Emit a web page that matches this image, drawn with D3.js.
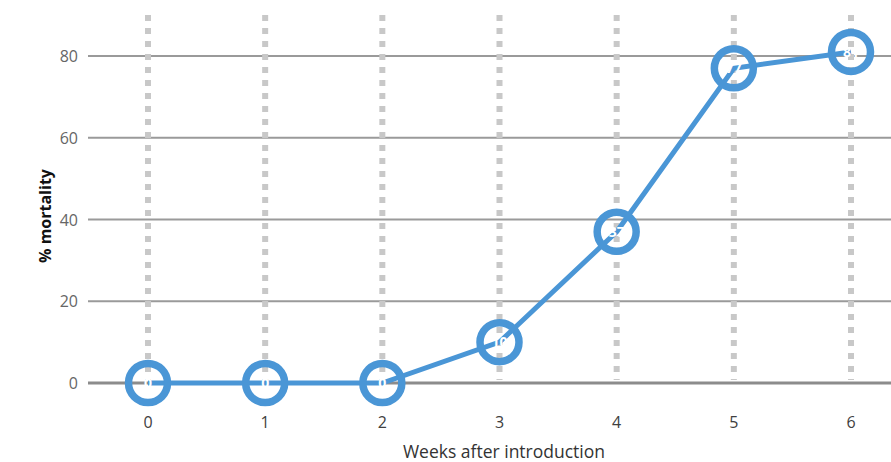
<!DOCTYPE html>
<html>
<head>
<meta charset="utf-8">
<script src="https://cdn.jsdelivr.net/npm/d3@7"></script>
<style>
  body { margin: 0; background: #fff; }
  svg { display: block; font-family: "Open Sans", "Noto Sans", sans-serif; }
</style>
</head>
<body>
<svg id="chart" width="891" height="462"></svg>
<script>
const weeks = [0, 1, 2, 3, 4, 5, 6];
const mortality = [0, 0, 0, 10, 37, 77, 81];
const yTicks = [0, 20, 40, 60, 80];

const lineColor = "#4a96d6";

const svg = d3.select("#chart");

//scales
const xScale = d3.scaleLinear().domain([0, 6]).range([148, 851]);
const yScale = d3.scaleLinear().domain([0, 80]).range([383, 56]);

//horizontal gridlines
svg
  .append("g")
  .selectAll("line")
  .data(yTicks.filter((d) => d !== 0))
  .enter()
  .append("line")
  .attr("x1", 88)
  .attr("x2", 891)
  .attr("y1", (d) => yScale(d))
  .attr("y2", (d) => yScale(d))
  .attr("stroke", "#9a9a9a")
  .attr("stroke-width", 2);

//vertical dotted gridlines
svg
  .append("g")
  .selectAll("line")
  .data(weeks)
  .enter()
  .append("line")
  .attr("x1", (d) => xScale(d))
  .attr("x2", (d) => xScale(d))
  .attr("y1", 15)
  .attr("y2", 380)
  .attr("stroke", "#c8c8c8")
  .attr("stroke-width", 6)
  .attr("stroke-dasharray", "6 7");

//baseline
svg
  .append("line")
  .attr("x1", 88)
  .attr("x2", 891)
  .attr("y1", yScale(0))
  .attr("y2", yScale(0))
  .attr("stroke", "#8c8c8c")
  .attr("stroke-width", 3);

//y tick labels
svg
  .append("g")
  .selectAll("text")
  .data(yTicks)
  .enter()
  .append("text")
  .attr("x", 78)
  .attr("y", (d) => yScale(d) + 6)
  .attr("text-anchor", "end")
  .attr("fill", "#666")
  .attr("font-size", 16)
  .text((d) => d);

//x tick labels
svg
  .append("g")
  .selectAll("text")
  .data(weeks)
  .enter()
  .append("text")
  .attr("x", (d) => xScale(d))
  .attr("y", 428)
  .attr("text-anchor", "middle")
  .attr("fill", "#404040")
  .attr("font-size", 16)
  .text((d) => d);

//axis titles
svg
  .append("text")
  .attr("x", 504)
  .attr("y", 458)
  .attr("text-anchor", "middle")
  .attr("fill", "#333")
  .attr("font-size", 17.5)
  .text("Weeks after introduction");

svg
  .append("text")
  .attr("transform", "translate(51, 216) rotate(-90)")
  .attr("text-anchor", "middle")
  .attr("fill", "#111")
  .attr("font-size", 16)
  .attr("font-weight", "bold")
  .text("% mortality");

//line
const points = weeks.map((w, i) => ({ week: w, value: mortality[i] }));
const line = d3
  .line()
  .x((d) => xScale(d.week))
  .y((d) => yScale(d.value));

svg
  .append("path")
  .datum(points)
  .attr("d", line)
  .attr("fill", "none")
  .attr("stroke", lineColor)
  .attr("stroke-width", 5);

//markers
svg
  .append("g")
  .selectAll("circle")
  .data(points)
  .enter()
  .append("circle")
  .attr("cx", (d) => xScale(d.week))
  .attr("cy", (d) => yScale(d.value))
  .attr("r", 19.5)
  .attr("fill", "none")
  .attr("stroke", lineColor)
  .attr("stroke-width", 7.5);

//data labels
svg
  .append("g")
  .selectAll("text")
  .data(points)
  .enter()
  .append("text")
  .attr("x", (d) => xScale(d.week))
  .attr("y", (d) => yScale(d.value) + 5)
  .attr("text-anchor", "middle")
  .attr("fill", "#fff")
  .attr("font-size", 14)
  .attr("font-weight", "bold")
  .text((d) => d.value);
</script>
</body>
</html>
